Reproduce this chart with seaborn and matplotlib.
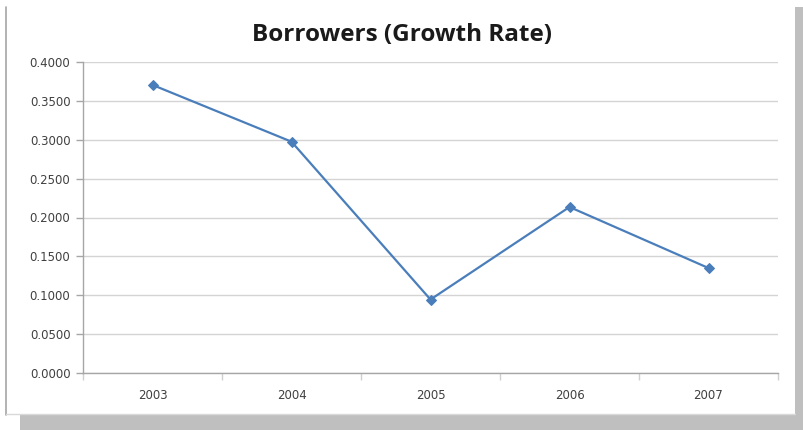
import matplotlib
matplotlib.use("Agg")
import matplotlib.pyplot as plt
from matplotlib.patches import Rectangle
from matplotlib.lines import Line2D
from matplotlib.ticker import FormatStrFormatter, FixedLocator
import pandas as pd
import seaborn as sns

years = ["2003", "2004", "2005", "2006", "2007"]
growth_rate = [0.3705, 0.2975, 0.0945, 0.2135, 0.1350]
y_ticks = [0.0, 0.05, 0.10, 0.15, 0.20, 0.25, 0.30, 0.35, 0.40]

df = pd.DataFrame({"year": years, "rate": growth_rate})

sns.set_style("white")
plt.rcParams['font.family'] = ['DejaVu Sans']

W, H = 804, 430
fig = plt.figure(figsize=(W / 100, H / 100), dpi=100)

# chart area: shadow + white box with border (Excel look)
fig.patches.append(Rectangle((20 / W, 0), (W - 20) / W, 15 / H, transform=fig.transFigure,
                             facecolor="#bfbfbf", edgecolor="none", zorder=0))
fig.patches.append(Rectangle((795 / W, 0), 9 / W, (H - 7) / H, transform=fig.transFigure,
                             facecolor="#bfbfbf", edgecolor="none", zorder=0))
fig.lines.append(Line2D([6 / W, 6 / W], [(H - 415) / H, (H - 7) / H], transform=fig.transFigure,
                        color="#a6a6a6", lw=1.2))
fig.lines.append(Line2D([6 / W, 795 / W], [(H - 414) / H, (H - 414) / H], transform=fig.transFigure,
                        color="#d9d9d9", lw=1.0))

ax = fig.add_axes([83 / W, 57 / H, 695 / W, 311 / H])
sns.lineplot(data=df, x="year", y="rate", ax=ax, color="#4a7ebb", lw=1.6,
             marker="D", markersize=5, markeredgecolor="#4a7ebb", sort=False)

ax.set_xlim(-0.5, 4.5)
ax.set_ylim(0, 0.4)
ax.set_yticks(y_ticks)
ax.yaxis.set_major_formatter(FormatStrFormatter("%.4f"))
ax.set_xlabel("")
ax.set_ylabel("")
# title is centred on the chart area, not the plot area
ax.set_title("Borrowers (Growth Rate)", fontsize=17.5, fontweight="bold",
             fontfamily="Open Sans", color="#1a1a1a", pad=15, x=(402 - 83) / 695)

ax.grid(axis="y", color="#d4d4d4", lw=1.0)
ax.set_axisbelow(True)
for s in ["top", "right"]:
    ax.spines[s].set_visible(False)
for s in ["left", "bottom"]:
    ax.spines[s].set_color("#a6a6a6")
    ax.spines[s].set_linewidth(1.0)

ax.tick_params(axis="y", left=True, length=5, width=1, color="#a6a6a6",
               labelsize=8.5, labelcolor="#404040", pad=4)
ax.tick_params(axis="x", bottom=False, labelsize=8.5, labelcolor="#404040", pad=8)
ax.xaxis.set_minor_locator(FixedLocator([-0.5, 0.5, 1.5, 2.5, 3.5, 4.5]))
ax.tick_params(axis="x", which="minor", bottom=True, length=5, width=1, color="#d0d0d0")

fig.savefig("out.png", dpi=100)
